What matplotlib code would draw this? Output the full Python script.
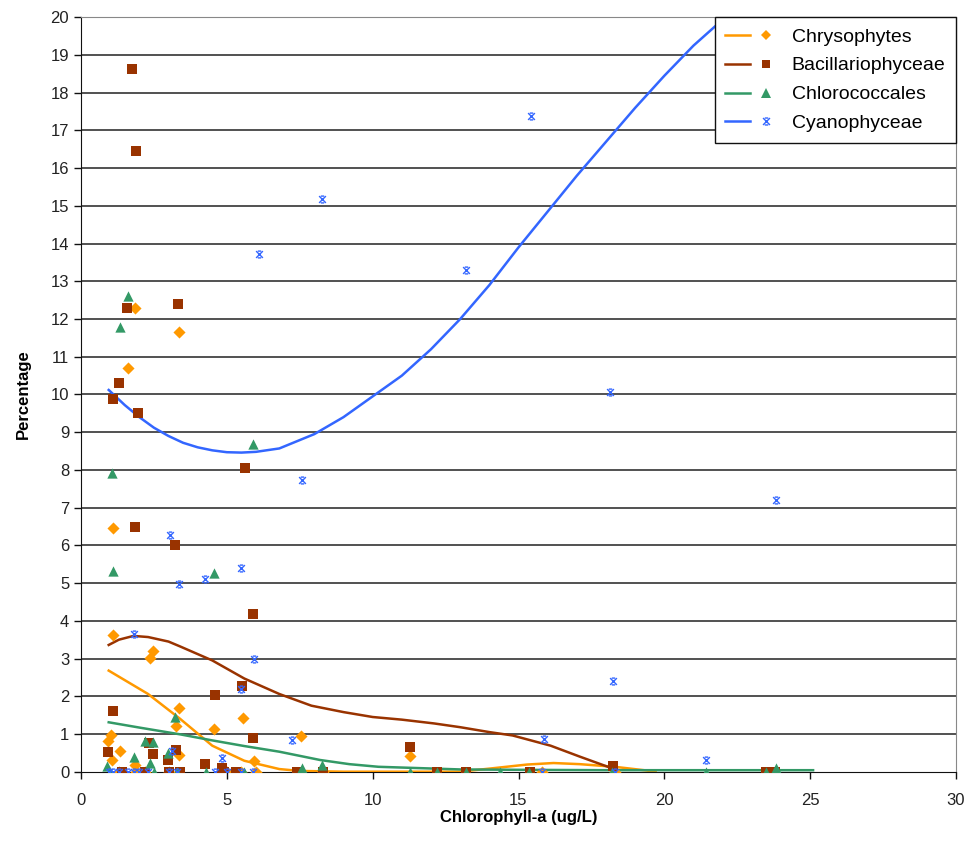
import matplotlib
matplotlib.use("Agg")
import matplotlib.pyplot as plt
from matplotlib.lines import Line2D
from matplotlib.path import Path
from matplotlib.legend_handler import HandlerTuple

plt.rcParams["font.family"] = ["Liberation Sans", "DejaVu Sans"]

# --- scatter data (chlorophyll-a ug/L, percentage) ---
chryso_x = [0.94, 1.02, 1.07, 1.10, 1.10, 1.32, 1.61, 1.84, 1.86, 2.35, 2.48, 3.27,
            3.35, 3.35, 3.35, 4.56, 5.56, 5.92, 7.55, 11.29,
            1.3, 1.9, 2.2, 3.0, 4.8, 5.0, 5.5, 6.0, 8.3, 15.8, 18.3]
chryso_y = [0.82, 0.98, 0.31, 3.62, 6.45, 0.54, 10.7, 0.19, 12.3, 3.02, 3.21, 1.2,
            1.69, 11.65, 0.44, 1.12, 1.43, 0.29, 0.94, 0.41,
            0, 0, 0, 0, 0, 0, 0, 0, 0, 0, 0]

bacil_x = [1.75, 1.90, 1.58, 3.34, 1.30, 1.08, 1.97, 5.61, 1.84, 3.21, 5.90, 5.53,
           4.60, 1.09, 5.90, 2.34, 0.92, 2.46, 2.97, 3.25, 4.24, 4.83, 11.29, 18.23,
           1.4, 2.2, 3.0, 3.4, 4.9, 5.3, 7.4, 8.3, 12.2, 13.2, 15.4, 23.5, 23.8]
bacil_y = [18.64, 16.45, 12.28, 12.41, 10.3, 9.88, 9.52, 8.06, 6.49, 6.0, 4.19, 2.28,
           2.03, 1.6, 0.9, 0.75, 0.53, 0.47, 0.31, 0.58, 0.2, 0.11, 0.66, 0.14,
           0, 0, 0, 0, 0, 0, 0, 0, 0, 0, 0, 0, 0]

chloro_x = [1.61, 1.32, 5.91, 1.06, 1.10, 4.55, 3.21, 2.20, 2.46, 2.97, 1.80, 2.35,
            0.90, 8.26, 7.57, 23.82,
            1.0, 2.5, 3.3, 4.3, 5.6, 7.5, 11.29, 12.2, 13.2, 14.36, 15.36, 18.2,
            21.44, 23.47]
chloro_y = [12.62, 11.8, 8.7, 7.93, 5.32, 5.27, 1.44, 0.82, 0.78, 0.49, 0.38, 0.23,
            0.16, 0.19, 0.1, 0.11,
            0, 0, 0, 0, 0, 0, 0, 0, 0, 0, 0, 0, 0, 0]

cyano_x = [15.43, 8.26, 6.10, 13.20, 18.13, 7.58, 23.83, 3.05, 5.47, 4.26, 3.35,
           1.80, 5.92, 18.24, 5.48, 7.25, 15.87, 4.85, 3.12, 21.43,
           0.95, 1.1, 1.3, 1.6, 1.8, 2.0, 2.3, 3.0, 3.3, 4.6, 5.0, 5.5, 5.9, 15.82, 18.3]
cyano_y = [17.38, 15.18, 13.72, 13.3, 10.07, 7.73, 7.2, 6.27, 5.41, 5.1, 4.97,
           3.64, 2.99, 2.4, 2.2, 0.84, 0.87, 0.35, 0.54, 0.31,
           0, 0, 0, 0, 0, 0, 0, 0, 0, 0, 0, 0, 0, 0, 0]

# --- smoothed trend lines ---
chryso_fx = [0.95, 2.3, 3.4, 4.5, 5.6, 6.8, 7.5, 9, 11, 13, 14.1, 15.3, 16.2, 17.1,
             18.3, 19.3, 19.7]
chryso_fy = [2.68, 2.06, 1.4, 0.69, 0.29, 0.07, 0.02, 0, 0, 0, 0.09, 0.19, 0.23, 0.2,
             0.13, 0.04, 0.0]

bacil_fx = [0.95, 1.3, 1.8, 2.3, 3.0, 3.4, 4.5, 5.6, 6.8, 7.9, 9.0, 10.0, 11.0, 12.1,
            13.0, 14.0, 14.8, 16.1, 17.1, 18.1, 18.3]
bacil_fy = [3.36, 3.5, 3.6, 3.57, 3.45, 3.32, 2.95, 2.47, 2.06, 1.75, 1.58, 1.45,
            1.38, 1.28, 1.18, 1.05, 0.96, 0.69, 0.4, 0.12, 0.0]

chloro_fx = [0.95, 2, 3.4, 4.5, 5.6, 6.8, 8.2, 9.2, 10.2, 11.4, 13, 15, 18, 21, 24,
             25.1]
chloro_fy = [1.31, 1.17, 0.99, 0.83, 0.68, 0.53, 0.31, 0.2, 0.13, 0.1, 0.06, 0.05,
             0.04, 0.04, 0.04, 0.04]

cyano_fx = [0.95, 1.5, 2.0, 2.5, 3.0, 3.5, 4.0, 4.5, 5.0, 5.5, 6.0, 6.8, 8, 9, 10,
            11, 12, 13, 14, 15, 16, 17, 18, 19, 20, 21, 21.9]
cyano_fy = [10.12, 9.72, 9.40, 9.12, 8.90, 8.72, 8.60, 8.52, 8.47, 8.46, 8.48, 8.57,
            8.95, 9.4, 9.95, 10.5, 11.2, 12.0, 12.9, 13.9, 14.85, 15.8, 16.7, 17.6,
            18.45, 19.25, 19.87]

C_OR = "#FF9900"
C_BR = "#993300"
C_GR = "#339966"
C_BL = "#3366FF"

# Excel-like star marker: an x with short caps
star = Path([(-1, -1), (1, 1), (-1, 1), (1, -1), (-0.5, 1), (0.5, 1), (-0.5, -1), (0.5, -1)],
            [Path.MOVETO, Path.LINETO, Path.MOVETO, Path.LINETO,
             Path.MOVETO, Path.LINETO, Path.MOVETO, Path.LINETO])

fig = plt.figure(figsize=(9.68, 8.46), dpi=100)
ax = fig.add_axes([81 / 968, 1 - 771.7 / 846, (956 - 81) / 968, (771.7 - 17.3) / 846])

ax.set_xlim(0, 30)
ax.set_ylim(0, 20)
for v in range(1, 21):
    ax.axhline(v, color="#222222" if v < 20 else "#888888", lw=1.1, zorder=1)

ax.plot(chryso_fx, chryso_fy, color=C_OR, lw=1.8, zorder=3)
ax.plot(bacil_fx, bacil_fy, color=C_BR, lw=1.8, zorder=3)
ax.plot(chloro_fx, chloro_fy, color=C_GR, lw=1.8, zorder=3)
ax.plot(cyano_fx, cyano_fy, color=C_BL, lw=1.8, zorder=3)

ax.scatter(chryso_x, chryso_y, marker="D", s=38, color=C_OR, lw=0, zorder=4)
ax.scatter(bacil_x, bacil_y, marker="s", s=42, color=C_BR, lw=0, zorder=4)
ax.scatter(chloro_x, chloro_y, marker="^", s=55, color=C_GR, lw=0, zorder=4)
ax.scatter(cyano_x, cyano_y, marker=star, s=24, color=C_BL, lw=1.0, zorder=5)

ax.set_xticks(range(0, 31, 5))
ax.set_yticks(range(0, 21))
ax.tick_params(direction="out", length=5, width=1, labelsize=12, colors="#111111",
               labelcolor="#222222")
ax.tick_params(axis="x", pad=10)
for s in ["left", "bottom"]:
    ax.spines[s].set_color("#111111")
for s in ["top", "right"]:
    ax.spines[s].set_color("#888888")
ax.set_xlabel("Chlorophyll-a (ug/L)", fontsize=12, fontweight="bold", labelpad=2)
ax.set_ylabel("Percentage", fontsize=12, fontweight="bold", labelpad=14)

handles = []
for c, m, ms in [(C_OR, "D", 5), (C_BR, "s", 6), (C_GR, "^", 7), (C_BL, star, 5)]:
    ln = Line2D([], [], color=c, lw=1.8)
    mk = Line2D([], [], color=c, marker=m, ms=ms, lw=0, mew=1.0 if m is star else 0)
    handles.append((ln, mk))
leg = ax.legend(handles, ["Chrysophytes", "Bacillariophyceae", "Chlorococcales", "Cyanophyceae"],
                handler_map={tuple: HandlerTuple(ndivide=None, pad=0.2)},
                loc="upper right", bbox_to_anchor=(1, 1), borderaxespad=0,
                fancybox=False, framealpha=1, edgecolor="#111111", fontsize=14,
                handlelength=2.7, labelspacing=0.58, borderpad=0.55, handletextpad=0.7)
leg.get_frame().set_linewidth(1.0)
leg.set_zorder(10)

plt.savefig("out.png", dpi=100, facecolor="white")
plt.close()
